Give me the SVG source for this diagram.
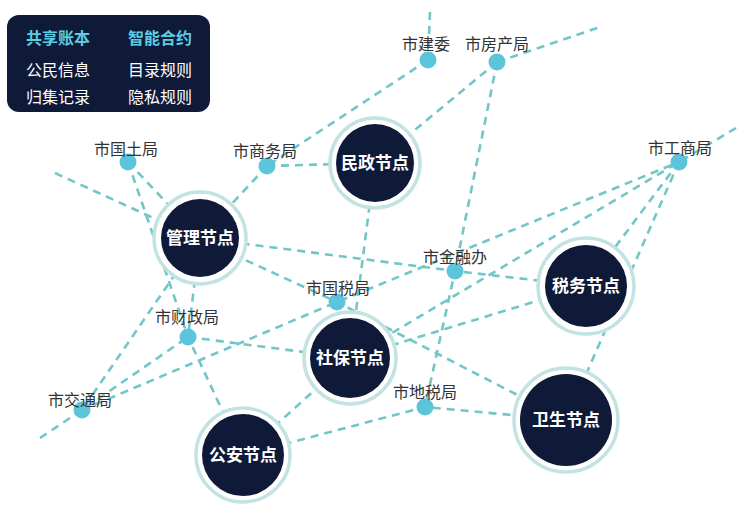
<svg xmlns="http://www.w3.org/2000/svg" width="746" height="511" viewBox="0 0 746 511">
<style>
.edge{fill:none;stroke:#72c6c8;stroke-width:2.6;stroke-dasharray:8 6}
.ring{fill:#fff;stroke:#c3e3e3;stroke-width:3.5}
.core{fill:#0f1938}
.ntext{font-family:'Noto Sans CJK SC',sans-serif;font-size:17px;font-weight:700;fill:#fff;text-anchor:middle}
.dot{fill:#5cc5dc}
.lbl{font-family:'Noto Sans CJK SC',sans-serif;font-size:16px;fill:#333;text-anchor:middle}
.lgh{font-family:'Noto Sans CJK SC',sans-serif;font-size:16px;font-weight:700;fill:#5bcde3;text-anchor:middle}
.lgt{font-family:'Noto Sans CJK SC',sans-serif;font-size:16px;fill:#fff;text-anchor:middle}
</style>
<rect width="746" height="511" fill="#fff"/>
<g id="connectors">
<path class="edge" d="M430,12 L428,60"/>
<path class="edge" d="M428,60 L267,166"/>
<path class="edge" d="M497,62 L600,27"/>
<path class="edge" d="M497,62 L375,163"/>
<path class="edge" d="M497,62 L455,271 L425,407"/>
<path class="edge" d="M267,166 L375,163"/>
<path class="edge" d="M267,166 L200,238"/>
<path class="edge" d="M128,162 L200,238"/>
<path class="edge" d="M128,162 L188,337 L243,455"/>
<path class="edge" d="M55,173 L337,302 L566,420"/>
<path class="edge" d="M200,238 L455,271 L586,286"/>
<path class="edge" d="M200,238 L82,410"/>
<path class="edge" d="M200,238 L188,337"/>
<path class="edge" d="M40,438 L82,410 L188,337"/>
<path class="edge" d="M82,410 L337,302 L679,162"/>
<path class="edge" d="M736,128 L679,162 L350,358"/>
<path class="edge" d="M679,162 L586,286"/>
<path class="edge" d="M679,162 L566,420"/>
<path class="edge" d="M375,163 L350,358"/>
<path class="edge" d="M188,337 L350,358"/>
<path class="edge" d="M243,455 L350,358"/>
<path class="edge" d="M243,455 L425,407 L566,420"/>
<path class="edge" d="M586,286 L350,358"/>
</g>
<g id="legend">
<rect x="7" y="15" width="203" height="97" rx="12" fill="#0f1938"/>
<text class="lgh" x="58" y="44">共享账本</text>
<text class="lgh" x="160" y="44">智能合约</text>
<text class="lgt" x="58" y="76">公民信息</text>
<text class="lgt" x="160" y="76">目录规则</text>
<text class="lgt" x="58" y="103">归集记录</text>
<text class="lgt" x="160" y="103">隐私规则</text>
</g>
<g id="node-guanli"><circle class="ring" cx="200" cy="238" r="46"/><circle class="core" cx="200" cy="238" r="39"/><text class="ntext" x="200" y="244">管理节点</text></g>
<g id="node-minzheng"><circle class="ring" cx="375" cy="163" r="45"/><circle class="core" cx="375" cy="163" r="39"/><text class="ntext" x="375" y="169">民政节点</text></g>
<g id="node-shebao"><circle class="ring" cx="350" cy="358" r="46"/><circle class="core" cx="350" cy="358" r="40"/><text class="ntext" x="350" y="364">社保节点</text></g>
<g id="node-shuiwu"><circle class="ring" cx="586" cy="286" r="48"/><circle class="core" cx="586" cy="286" r="41"/><text class="ntext" x="586" y="292">税务节点</text></g>
<g id="node-weisheng"><circle class="ring" cx="566" cy="420" r="52"/><circle class="core" cx="566" cy="420" r="46"/><text class="ntext" x="566" y="426">卫生节点</text></g>
<g id="node-gongan"><circle class="ring" cx="243" cy="455" r="47"/><circle class="core" cx="243" cy="455" r="41"/><text class="ntext" x="243" y="461">公安节点</text></g>
<g id="node-jianwei"><circle class="dot" cx="428" cy="60" r="8.5"/><text class="lbl" x="426" y="50">市建委</text></g>
<g id="node-fangchan"><circle class="dot" cx="497" cy="62" r="8.5"/><text class="lbl" x="497" y="50">市房产局</text></g>
<g id="node-guotu"><circle class="dot" cx="128" cy="162" r="8.5"/><text class="lbl" x="126" y="155">市国土局</text></g>
<g id="node-shangwu"><circle class="dot" cx="267" cy="166" r="8.5"/><text class="lbl" x="265" y="157">市商务局</text></g>
<g id="node-gongshang"><circle class="dot" cx="679" cy="162" r="8.5"/><text class="lbl" x="680" y="154">市工商局</text></g>
<g id="node-jinrong"><circle class="dot" cx="455" cy="271" r="8.5"/><text class="lbl" x="455" y="263">市金融办</text></g>
<g id="node-guoshui"><circle class="dot" cx="337" cy="302" r="8.5"/><text class="lbl" x="338" y="294">市国税局</text></g>
<g id="node-caizheng"><circle class="dot" cx="188" cy="337" r="8.5"/><text class="lbl" x="187" y="323">市财政局</text></g>
<g id="node-jiaotong"><circle class="dot" cx="82" cy="410" r="8.5"/><text class="lbl" x="80" y="406">市交通局</text></g>
<g id="node-dishui"><circle class="dot" cx="425" cy="407" r="8.5"/><text class="lbl" x="425" y="398">市地税局</text></g>
</svg>
